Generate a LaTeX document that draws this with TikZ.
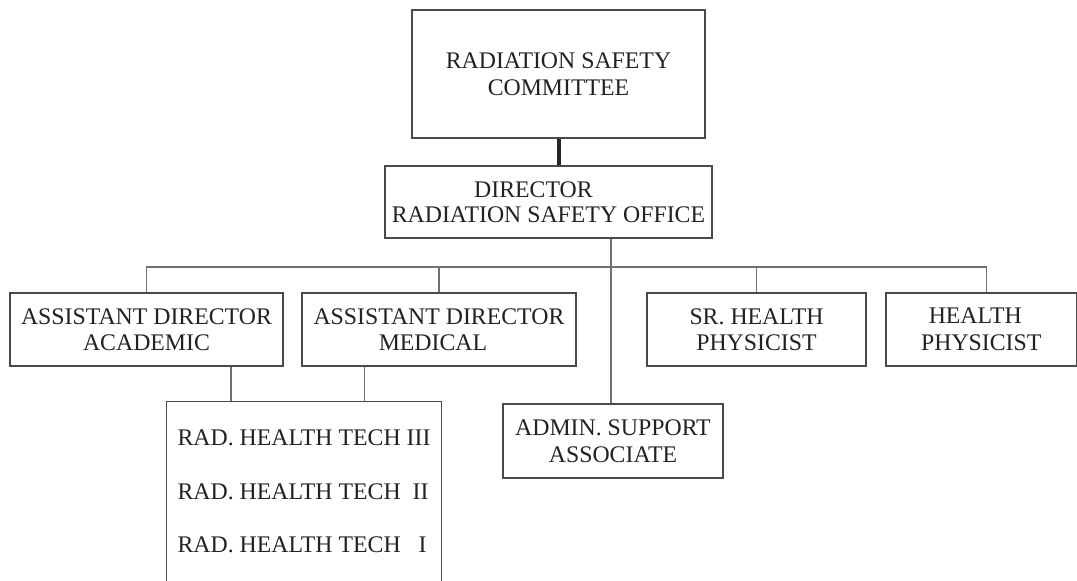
\documentclass[tikz,border=0pt]{standalone}
\usepackage{fontspec}
\setmainfont{Liberation Serif}
\definecolor{txt}{HTML}{222222}
\definecolor{boxc}{HTML}{4A4A4A}
\definecolor{linec}{HTML}{707070}
\definecolor{thickc}{HTML}{262626}
\begin{document}
\begin{tikzpicture}[x=1pt,y=-1pt,
  box/.style={draw=boxc,line width=1.3pt,inner sep=0pt,align=center,text=txt,
    font=\fontsize{23.8}{26.5}\selectfont},
  conn/.style={draw=linec,line width=1.2pt},
  thickconn/.style={draw=thickc,line width=4pt}]
\fill[white] (0,0) rectangle (1077,581);
\path[use as bounding box] (0,0) rectangle (1077,581);

\node[box,minimum width=293pt,minimum height=128pt,font=\fontsize{23.8}{27}\selectfont] (comm) at (558.5,74) {RADIATION SAFETY\\COMMITTEE};
\node[box,minimum width=327pt,minimum height=72pt,font=\fontsize{23.8}{24.5}\selectfont] (dir) at (548.5,202) {DIRECTOR\hspace*{30pt}\\RADIATION SAFETY OFFICE};

\node[box,minimum width=273pt,minimum height=73pt] (acad) at (146.5,329.5) {ASSISTANT DIRECTOR\\ACADEMIC};
\node[box,minimum width=274pt,minimum height=73pt] (med) at (439,329.5) {ASSISTANT DIRECTOR\\MEDICAL\hspace*{12pt}};
\node[box,minimum width=219pt,minimum height=73pt] (sr) at (756.5,329.5) {SR. HEALTH\\PHYSICIST};
\node[box,minimum width=190.5pt,minimum height=73pt] (hp) at (981.25,329.5) {HEALTH\hspace*{12pt}\\PHYSICIST};
\node[box,minimum width=220pt,minimum height=74pt] (admin) at (613,441) {ADMIN. SUPPORT\\ASSOCIATE};
\node[box,draw=none,minimum width=274pt,minimum height=179pt,align=left,
  font=\fontsize{23.8}{53.5}\selectfont] (rad) at (304,491.5)
  {RAD. HEALTH TECH III\\RAD. HEALTH TECH~~II\\RAD. HEALTH TECH~~~I};
\draw[draw=boxc,line width=1.3pt] (rad.south west) |- (rad.north east) -- (rad.south east);

\coordinate (bus) at (0,267);

\draw[thickconn] (comm.south) -- (comm.south |- dir.north);
\draw[conn] (acad.north) -- (acad.north |- bus) -- ([xshift=5.5pt]hp.north |- bus) -- ([xshift=5.5pt]hp.north);
\draw[conn] (med.north) -- (med.north |- bus);
\draw[conn] (sr.north) -- (sr.north |- bus);
\draw[conn] ([xshift=-2pt]admin.north |- dir.south) -- ([xshift=-2pt]admin.north);
\draw[conn] ([xshift=84.5pt]acad.south) -- ([xshift=84.5pt]acad.south |- rad.north);
\draw[conn] ([xshift=-74.5pt]med.south) -- ([xshift=-74.5pt]med.south |- rad.north);
\end{tikzpicture}
\end{document}
